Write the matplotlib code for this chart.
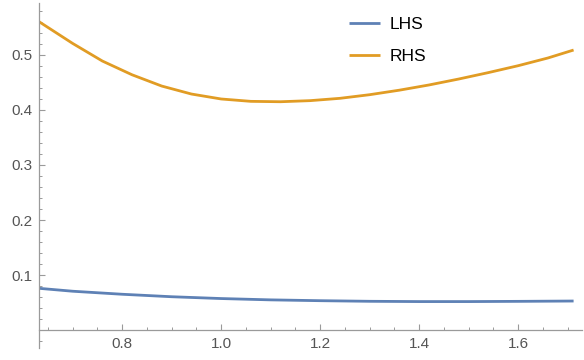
import numpy as np
import matplotlib.pyplot as plt
from matplotlib.ticker import MultipleLocator

# values
x_lhs = [0.632, 0.70, 0.80, 0.90, 1.00, 1.10, 1.20, 1.30, 1.40, 1.50, 1.60, 1.712]
y_lhs = [0.0758, 0.0705, 0.0650, 0.0605, 0.0572, 0.0548, 0.0533, 0.0522, 0.0517, 0.0517, 0.0521, 0.0527]

x_rhs = [0.632, 0.70, 0.76, 0.82, 0.88, 0.94, 1.00, 1.06, 1.12, 1.18, 1.24,
         1.30, 1.36, 1.42, 1.48, 1.54, 1.60, 1.66, 1.712]
y_rhs = [0.5606, 0.521, 0.489, 0.464, 0.4435, 0.4290, 0.4200, 0.4157, 0.4150, 0.4170, 0.4212,
         0.4278, 0.4360, 0.4455, 0.4563, 0.4680, 0.4805, 0.4945, 0.509]

blue = '#5E81B5'
orange = '#E19C24'
axcol = '#9a9a9a'

plt.rcParams['font.family'] = ['Liberation Sans', 'DejaVu Sans']

fig = plt.figure(figsize=(5.84, 3.60), dpi=100)
ax = fig.add_axes([39/584, 12/360, 543/584, 345/360])

ax.plot(x_lhs, y_lhs, color=blue, lw=2.0, label='LHS', solid_capstyle='butt')
ax.plot(x_rhs, y_rhs, color=orange, lw=2.0, label='RHS', solid_capstyle='butt')

ax.set_xlim(0.632, 1.729)
ax.set_ylim(-0.0327, 0.5945)

ax.spines['top'].set_visible(False)
ax.spines['right'].set_visible(False)
ax.spines['bottom'].set_position(('data', 0))
for s in ['left', 'bottom']:
    ax.spines[s].set_color(axcol)
    ax.spines[s].set_linewidth(0.9)

ax.xaxis.set_minor_locator(MultipleLocator(0.05))
ax.yaxis.set_minor_locator(MultipleLocator(0.02))
ax.set_yticks([0.1, 0.2, 0.3, 0.4, 0.5])
ax.set_yticklabels(['0.1', '0.2', '0.3', '0.4', '0.5'])
ax.set_xticks([0.8, 1.0, 1.2, 1.4, 1.6])
ax.set_xticklabels(['0.8', '1.0', '1.2', '1.4', '1.6'])

ax.tick_params(which='major', direction='in', length=4.5, width=0.8, color=axcol,
               labelcolor='#555555', labelsize=11, pad=5)
ax.tick_params(which='minor', direction='in', length=2.5, width=0.7, color=axcol)

ax.legend(loc='upper left', bbox_to_anchor=(298/543, 0.995), frameon=False, fontsize=12.5,
          handlelength=1.75, handletextpad=0.6, labelspacing=0.95, borderaxespad=0.3)

fig.savefig('out.png', dpi=100)
